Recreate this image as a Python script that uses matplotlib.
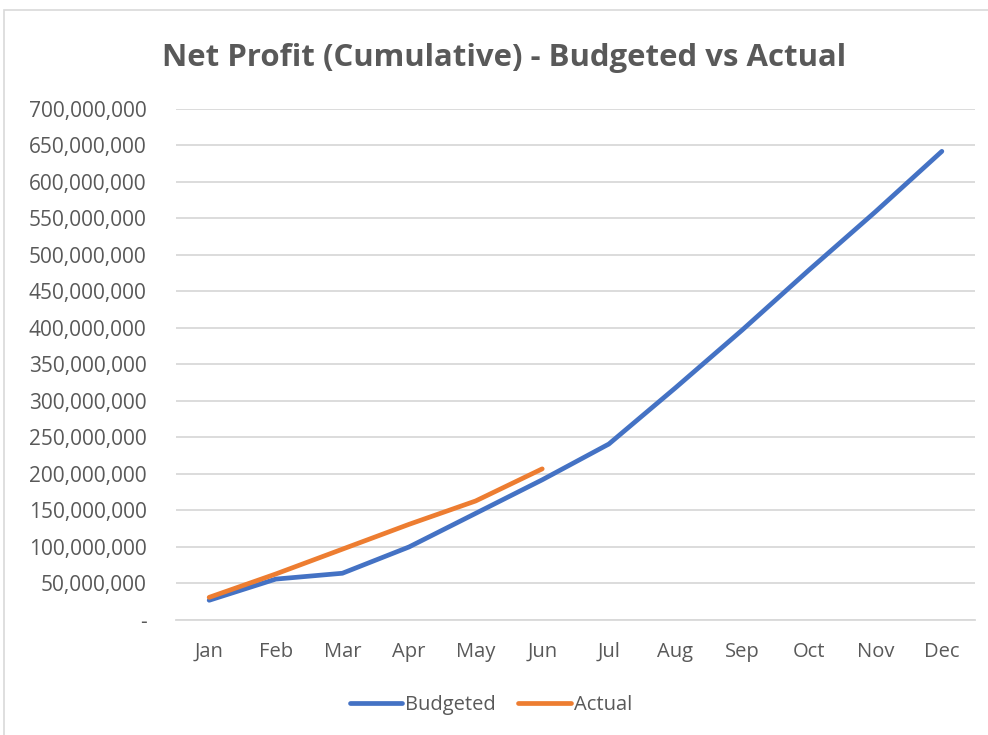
import matplotlib.pyplot as plt
from matplotlib.patches import Rectangle
from matplotlib.ticker import FuncFormatter

# Data (values in currency units)
months = ['Jan', 'Feb', 'Mar', 'Apr', 'May', 'Jun',
          'Jul', 'Aug', 'Sep', 'Oct', 'Nov', 'Dec']
budgeted = [27e6, 56e6, 64e6, 100e6, 146e6, 192e6,
            241e6, 318e6, 397e6, 479e6, 559e6, 642e6]
actual = [31e6, 63e6, 97e6, 131e6, 163e6, 207e6]

text_color = '#595959'
grid_color = '#d9d9d9'
plt.rcParams['font.family'] = ['Open Sans', 'DejaVu Sans']

fig = plt.figure(figsize=(9.88, 7.35), dpi=100)
ax = fig.add_axes([0.178, 0.1565, 0.809, 0.6952])

# light border around the chart like an Excel chart area
fig.patches.append(Rectangle((0.004, -0.01), 1.2, 0.997, transform=fig.transFigure,
                             fill=False, edgecolor=grid_color, linewidth=1.2))

x = list(range(len(months)))
ax.plot(x, budgeted, color='#4472C4', linewidth=3.4, solid_capstyle='round',
        solid_joinstyle='round', label='Budgeted', zorder=3)
ax.plot(x[:len(actual)], actual, color='#ED7D31', linewidth=3.4, solid_capstyle='round',
        solid_joinstyle='round', label='Actual', zorder=4)

ax.set_xlim(-0.5, 11.5)
ax.set_ylim(0, 700e6)
ax.set_yticks([i * 50e6 for i in range(15)])
ax.yaxis.set_major_formatter(FuncFormatter(lambda v, p: '-' if v == 0 else f'{v:,.0f}'))
ax.set_xticks(x)
ax.set_xticklabels(months)

ax.grid(axis='y', color=grid_color, linewidth=1.3)
ax.set_axisbelow(True)
for side in ['top', 'right', 'left']:
    ax.spines[side].set_visible(False)
ax.spines['bottom'].set_color(grid_color)
ax.spines['bottom'].set_linewidth(1.3)
ax.tick_params(axis='both', length=0, colors=text_color)
ax.tick_params(axis='x', pad=16, labelsize=14.5)
ax.tick_params(axis='y', pad=21, labelsize=15)

fig.text(0.51, 0.921, 'Net Profit (Cumulative) - Budgeted vs Actual', ha='center', va='center',
         fontsize=22.4, fontweight='bold', color=text_color)

leg = fig.legend(loc='center', bbox_to_anchor=(0.497, 0.041), ncol=2, frameon=False,
                 fontsize=14.5, handlelength=2.6, columnspacing=1.1, handletextpad=0.15)
for t in leg.get_texts():
    t.set_color(text_color)

fig.savefig('out.png', dpi=100)
